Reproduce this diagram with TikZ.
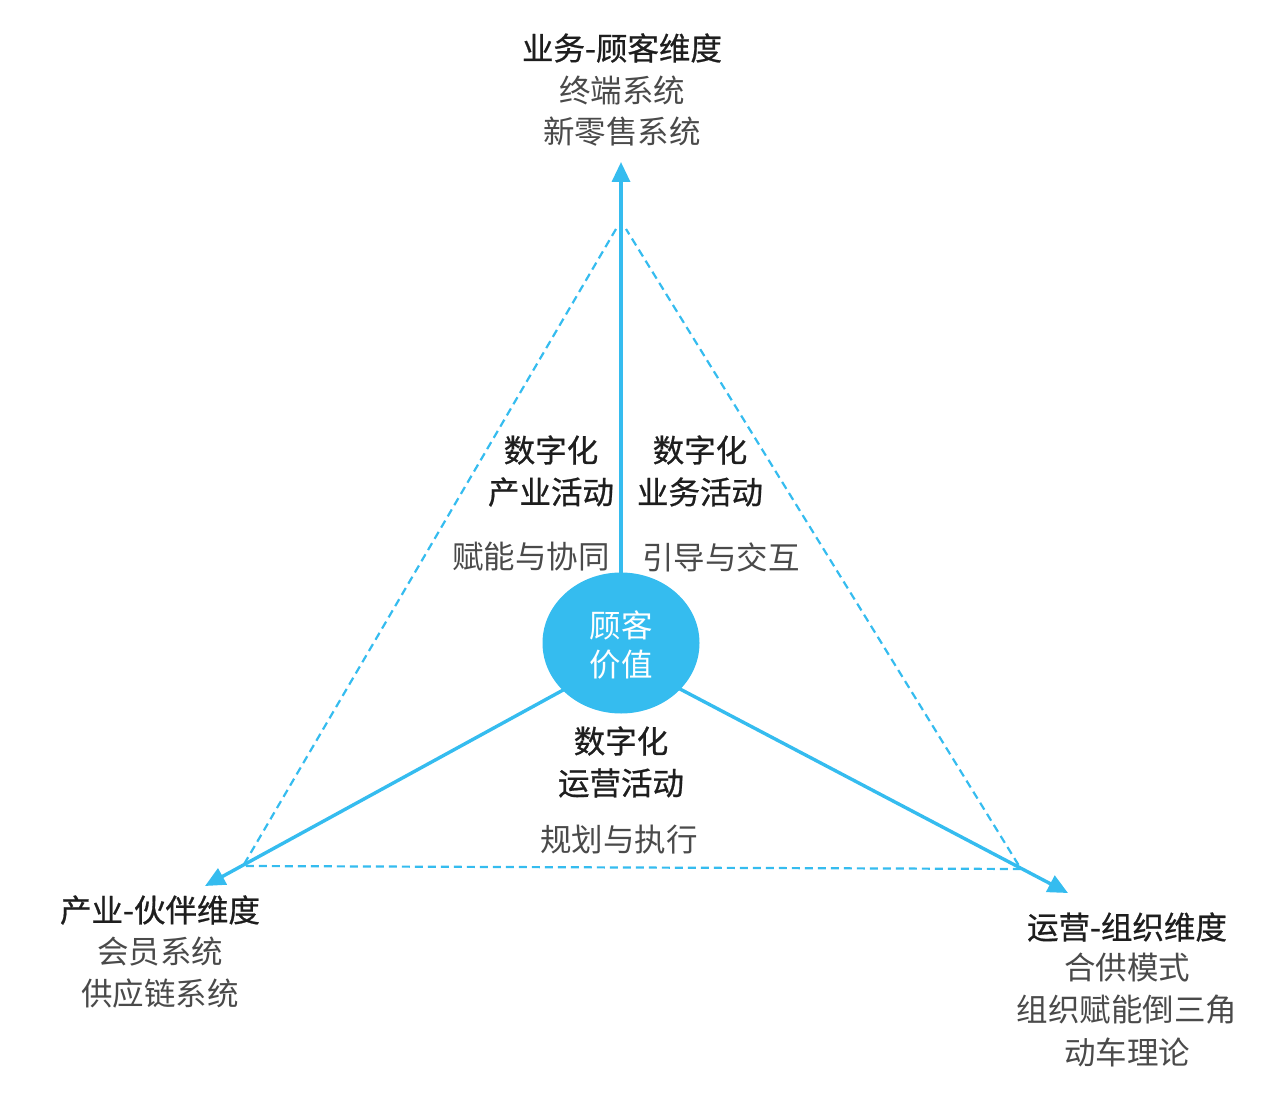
\documentclass[tikz,border=0pt]{standalone}
\usepackage{fontspec}
\setmainfont{Noto Sans CJK SC}
\newfontfamily\headfont[FakeBold=0.7]{Noto Sans CJK SC}
\usetikzlibrary{arrows.meta,shapes.geometric}
\definecolor{cblue}{HTML}{35BCEF}
\definecolor{dtext}{HTML}{1E1E1E}
\definecolor{ltext}{HTML}{4A4A4A}
\tikzset{
  head/.style={text=dtext,font=\headfont\fontsize{31.5}{36}\selectfont,inner sep=0pt,align=center},
  sub/.style={text=ltext,font=\fontsize{31.5}{36}\selectfont,inner sep=0pt,align=center},
  axis/.style={cblue,line width=3.4pt,-{Triangle[length=20pt,width=18pt]}},
  tri/.style={cblue,line width=2.2pt,dash pattern=on 8pt off 5pt},
}
\begin{document}
\begin{tikzpicture}[x=1pt,y=-1pt]
\useasboundingbox (0,0) rectangle (1269,1094);
\node[ellipse,fill=cblue,minimum width=157pt,minimum height=141pt,inner sep=0pt] (c) at (621,643) {};
\node[text=white,font=\fontsize{31.5}{36}\selectfont,inner sep=0pt] (c1) at (621,625) {顾客};
\node[text=white,font=\fontsize{31.5}{36}\selectfont,inner sep=0pt] (c2) at (621,665) {价值};
\coordinate (tT) at (621,162);
\coordinate (tL) at (205,886);
\coordinate (tR) at (1068,893);
\coordinate (sT) at (621,573);
\coordinate (sL) at (565,689);
\coordinate (sR) at (680,689);
\draw[axis] (sT) -- (tT);
\draw[axis] (sL) -- (tL);
\draw[axis] (sR) -- (tR);
\coordinate (d1) at (616,229);
\coordinate (d2) at (626,229);
\coordinate (dL) at (243,866);
\coordinate (dR) at (1021,869);
\draw[tri] (d1) -- (dL) -- (dR) -- (d2);
% top
\node[head] (h1) at (622,48) {业务-顾客维度};
\node[sub] (h1a) at (622,91) {终端系统};
\node[sub] (h1b) at (622,132) {新零售系统};
% left
\node[head] (h2) at (160,910) {产业-伙伴维度};
\node[sub] (h2a) at (160,952) {会员系统};
\node[sub] (h2b) at (160,994) {供应链系统};
% right
\node[head] (h3) at (1127,927) {运营-组织维度};
\node[sub] (h3a) at (1127,968) {合供模式};
\node[sub] (h3b) at (1127,1010) {组织赋能倒三角};
\node[sub] (h3c) at (1127,1052) {动车理论};
% inner labels
\node[head] (a1) at (551,450) {数字化};
\node[head] (a2) at (551,492) {产业活动};
\node[head] (b1) at (700,450) {数字化};
\node[head] (b2) at (700,492) {业务活动};
\node[sub] (a3) at (531,557) {赋能与协同};
\node[sub] (b3) at (721,557) {引导与交互};
\node[head] (e1) at (621,741) {数字化};
\node[head] (e2) at (621,783) {运营活动};
\node[sub] (e3) at (619,840) {规划与执行};
\end{tikzpicture}
\end{document}
